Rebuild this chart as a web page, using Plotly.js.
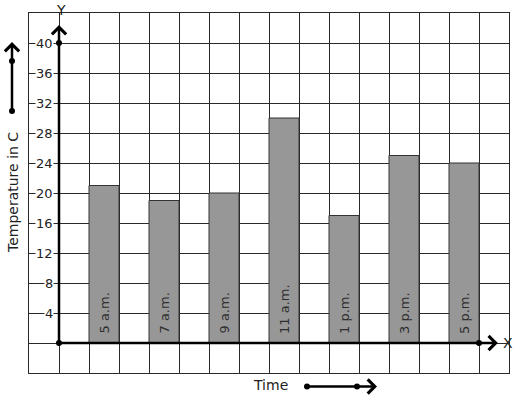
<!DOCTYPE html>
<html>
<head>
<meta charset="utf-8">
<script src="https://cdn.plot.ly/plotly-3.0.1.min.js"></script>
<style>html,body{margin:0;padding:0;background:#fff;}#chart{width:517px;height:399px;}</style>
</head>
<body>
<div id="chart"></div>
<script>
const times = ['5 a.m.', '7 a.m.', '9 a.m.', '11 a.m.', '1 p.m.', '3 p.m.', '5 p.m.'];
const temps = [21, 19, 20, 30, 17, 25, 24];
const yTickValues = [4, 8, 12, 16, 20, 24, 28, 32, 36, 40];
const yTitle = 'Temperature in C';
const xTitle = 'Time';

const FONT = 'DejaVu Sans, sans-serif';
const GRID = '#2a2a2a';
const W = 517, H = 399, L = 29, R = 8, T = 13, B = 26;
const pw = W - L - R, ph = H - T - B;
const px = v => (v - L) / pw;
const py = v => (H - B - v) / ph;

const barX = times.map((_, i) => 1.5 + 2 * i);

const bars = {
  type: 'bar', x: barX, y: temps, width: 1,
  marker: {color: '#979797', line: {color: '#333', width: 1}},
  hoverinfo: 'none'
};
const dots = {
  type: 'scatter', mode: 'markers', x: [0, 0, barX[barX.length - 1] + 0.5], y: [0, yTickValues[yTickValues.length - 1], 0],
  marker: {color: '#000', size: 6}, cliponaxis: false, hoverinfo: 'none'
};

const ann = [];
// bar labels
times.forEach((t, i) => ann.push({xref: 'x', yref: 'y', x: barX[i], y: 0, text: t, textangle: -90,
  showarrow: false, xanchor: 'center', yanchor: 'bottom', yshift: 7,
  font: {family: FONT, size: 13, color: '#2e2e2e'}}));
// axis arrows
ann.push({xref: 'x', yref: 'y', axref: 'x', ayref: 'y', x: 0, y: 42.4, ax: 0, ay: 0, text: '',
  showarrow: true, arrowhead: 4, arrowwidth: 2.5, arrowsize: 1.1, arrowcolor: '#000'});
ann.push({xref: 'x', yref: 'y', axref: 'x', ayref: 'y', x: 14.63, y: 0, ax: 0, ay: 0, text: '',
  showarrow: true, arrowhead: 4, arrowwidth: 2.5, arrowsize: 1.1, arrowcolor: '#000'});
ann.push({xref: 'paper', yref: 'paper', x: px(508), y: py(343), text: 'X', showarrow: false,
  xanchor: 'center', yanchor: 'middle', font: {family: FONT, size: 14, color: '#222'}});
ann.push({xref: 'paper', yref: 'paper', x: px(61), y: py(10), text: 'Y', showarrow: false,
  xanchor: 'center', yanchor: 'middle', font: {family: FONT, size: 14, color: '#222'}});
// tick labels
yTickValues.forEach(v => ann.push({xref: 'x', yref: 'y', x: 0, y: v, text: String(v), showarrow: false,
  xanchor: 'right', yanchor: 'middle', xshift: -5, bgcolor: '#fff', borderpad: 0,
  font: {family: FONT, size: 13, color: '#222'}}));
// titles
ann.push({xref: 'paper', yref: 'paper', x: px(13), y: py(193), text: yTitle, textangle: -90, showarrow: false,
  xanchor: 'center', yanchor: 'middle', font: {family: FONT, size: 14, color: '#222'}});
ann.push({xref: 'paper', yref: 'paper', x: px(270), y: py(385), text: xTitle, showarrow: false,
  xanchor: 'center', yanchor: 'middle', font: {family: FONT, size: 14, color: '#222'}});
// decorative direction arrows
ann.push({xref: 'paper', yref: 'paper', x: px(12), y: py(42), ax: 0, ay: 69, text: '',
  showarrow: true, arrowhead: 4, arrowwidth: 2.5, arrowsize: 1.1, arrowcolor: '#000'});
ann.push({xref: 'paper', yref: 'paper', x: px(377), y: py(386.5), ax: -70, ay: 0, text: '',
  showarrow: true, arrowhead: 4, arrowwidth: 2.5, arrowsize: 1.1, arrowcolor: '#000'});

const dotShape = (x, y) => ({type: 'circle', xref: 'paper', yref: 'paper', xsizemode: 'pixel', ysizemode: 'pixel',
  xanchor: px(x), yanchor: py(y), x0: -3, x1: 3, y0: -3, y1: 3, fillcolor: '#000', line: {width: 0}});
const shapes = [dotShape(12, 111), dotShape(12, 61), dotShape(307, 386.5), dotShape(357, 386.5)];

const axisCommon = {showticklabels: false, ticks: '', showgrid: true, gridcolor: GRID, gridwidth: 1,
  zeroline: false, showline: true, mirror: true, linecolor: GRID, linewidth: 1, fixedrange: true};

const layout = {
  width: W, height: H, margin: {l: L, r: R, t: T, b: B},
  paper_bgcolor: '#fff', plot_bgcolor: '#fff', showlegend: false,
  xaxis: Object.assign({range: [-1, 15], dtick: 1, tick0: 0}, axisCommon),
  yaxis: Object.assign({range: [-4, 44], dtick: 4, tick0: 0}, axisCommon),
  annotations: ann, shapes: shapes
};
Plotly.newPlot('chart', [bars, dots], layout, {displayModeBar: false, staticPlot: true});
</script>
</body>
</html>
